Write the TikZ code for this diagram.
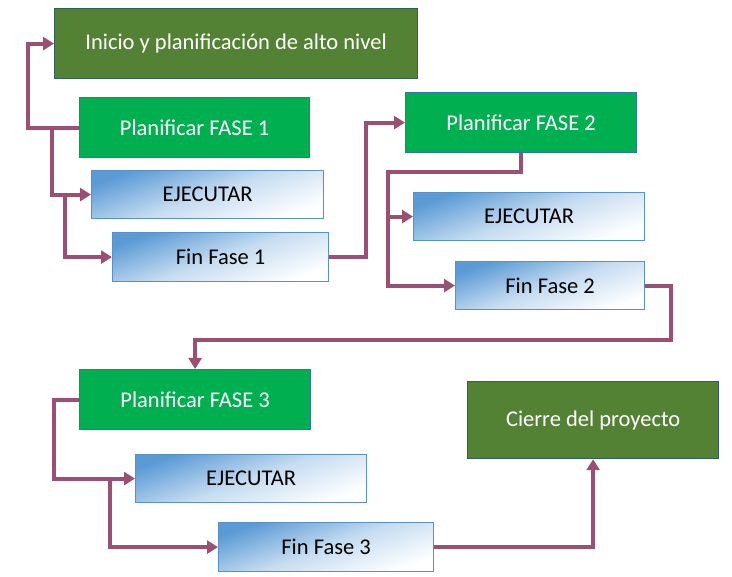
\documentclass[tikz,border=0pt]{standalone}
\usepackage{fontspec}
\setmainfont{Carlito}
\usetikzlibrary{arrows.meta}
\definecolor{dkgreen}{HTML}{548235}
\definecolor{dkgreenborder}{HTML}{2F5F5A}
\definecolor{ltgreen}{HTML}{00B050}
\definecolor{boxblue}{HTML}{2E75B6}
\definecolor{gradblue}{HTML}{5B9BD5}
\definecolor{connc}{HTML}{9A4F73}
\tikzset{
  base/.style={rectangle, anchor=north west, inner sep=0pt, font=\fontsize{22.5}{24}\selectfont, line width=1.2pt},
  darkbox/.style={base, fill=dkgreen, draw=dkgreenborder, text=white},
  greenbox/.style={base, fill=ltgreen, draw=boxblue, text=white},
  gradbox/.style={base, draw=boxblue!80, top color=gradblue, bottom color=white, middle color=gradblue!35, shading angle=20, text=black},
  conn/.style={draw=connc, line width=4pt, -{Triangle[length=11pt,width=13pt]}}
}
\begin{document}
\begin{tikzpicture}[x=1pt,y=-1pt]
\useasboundingbox (0,0) rectangle (732,577);
\node[darkbox, minimum width=363pt, minimum height=70pt] (inicio) at (54,8) {Inicio y planificación de alto nivel};
\node[greenbox, minimum width=230pt, minimum height=60pt] (p1) at (79,97) {Planificar FASE 1};
\node[gradbox, minimum width=232pt, minimum height=48pt] (e1) at (91,170) {EJECUTAR};
\node[gradbox, minimum width=216pt, minimum height=49pt] (f1) at (112,232) {Fin Fase 1};
\node[greenbox, minimum width=231pt, minimum height=60pt] (p2) at (405,92) {Planificar FASE 2};
\node[gradbox, minimum width=231pt, minimum height=48pt] (e2) at (413,192) {EJECUTAR};
\node[gradbox, minimum width=189pt, minimum height=48pt] (f2) at (455,261) {Fin Fase 2};
\node[greenbox, minimum width=231pt, minimum height=60pt] (p3) at (79,369) {Planificar FASE 3};
\node[gradbox, minimum width=231pt, minimum height=48pt] (e3) at (135,454) {EJECUTAR};
\node[gradbox, minimum width=215pt, minimum height=49pt] (f3) at (218,522) {Fin Fase 3};
\node[darkbox, minimum width=251pt, minimum height=77pt] (cierre) at (467,381) {Cierre del proyecto};

\draw[conn] (p1.west) -- ++(-51,0) |- (inicio.west);
\draw[conn] ([xshift=-27pt]p1.west) |- (e1.west);
\draw[conn] ([xshift=-26pt]e1.west) |- (f1.west);
\draw[conn] (f1.east) -- ++(37,0) |- (p2.west);
\draw[conn] (p2.south) -- ++(0,19) -| ([xshift=-67pt]f2.west) -- (f2.west);
\draw[conn] ([xshift=-25pt]e2.west) -- (e2.west);
\draw[conn] (f2.east) -- ++(26,0) -- ++(0,54) -| (p3.north);
\draw[conn] (p3.west) -- ++(-25,0) |- (e3.west);
\draw[conn] ([xshift=-25pt]e3.west) |- (f3.west);
\draw[conn] (f3.east) -| (cierre.south);
\end{tikzpicture}
\end{document}
